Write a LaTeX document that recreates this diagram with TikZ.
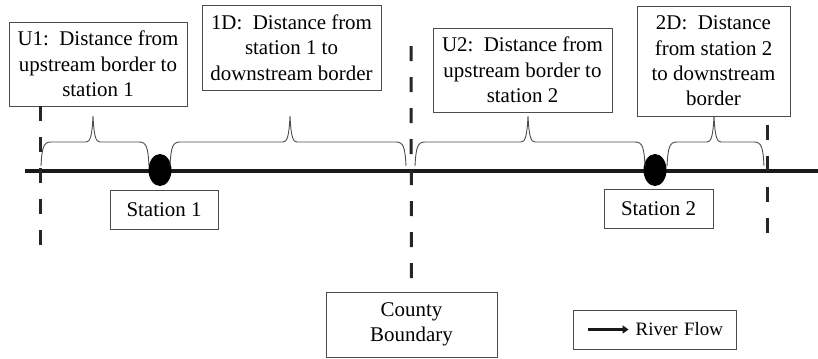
\documentclass[tikz,border=0pt]{standalone}
\usepackage{fontspec}
\setmainfont{Liberation Serif}
\usetikzlibrary{positioning, arrows.meta, shapes.geometric}
\tikzset{
    x=1bp, y=-1bp,
    every node/.style={font=\fontsize{21}{25.5}\selectfont},
    textbox/.style={draw=black!70, line width=0.9bp, inner sep=0pt, align=center},
    border/.style={line width=3bp, black!85, dash pattern=on 15bp off 16bp},
    river/.style={line width=4bp, black!90},
    station/.style={ellipse, fill=black, inner sep=0pt, minimum width=23bp, minimum height=32bp},
    brace/.style={draw=black!70, line width=0.9bp},
}
% curly brace over the river: left end, right end, tip
\newcommand{\spanbrace}[3]{%
  \draw[brace] (#1,166) .. controls (#1+1,146) and (#1+3,142) .. (#1+10,142)
    -- (#3-7,142) .. controls (#3-3,142) and (#3-1,137) .. (#3,116)
    .. controls (#3+1,137) and (#3+3,142) .. (#3+7,142)
    -- (#2-10,142) .. controls (#2-3,142) and (#2-1,146) .. (#2,166);}

\begin{document}
\begin{tikzpicture}
\useasboundingbox (0,0) rectangle (818,358);

% river and borders
\coordinate (rs) at (25,171);
\coordinate (re) at (818,171);
\draw[river] (rs) -- (re);

\node[station] (st1) at (160,170) {};
\node[station] (st2) at (655,170) {};

% text boxes
\node[textbox, minimum width=178bp, minimum height=84bp] (u1) at (98,64)
    {U1:\enspace Distance from\\ upstream border to\\ station 1};
\node[textbox, minimum width=179bp, minimum height=85bp] (d1) at (291.5,47.5)
    {1D:\enspace Distance from\\ station 1 to\\ downstream border};
\node[textbox, minimum width=179bp, minimum height=84bp] (u2) at (522.5,70)
    {U2:\enspace Distance from\\ upstream border to\\ station 2};
\node[textbox, minimum width=153bp, minimum height=110bp] (d2) at (713.5,61)
    {2D:\enspace Distance\\ from station 2\\ to downstream\\ border};
\node[textbox, minimum width=108bp, minimum height=39bp] (lab1) at (164,209.5) {Station 1};
\node[textbox, minimum width=109bp, minimum height=39bp] (lab2) at (658.5,208.5) {Station 2};
\node[textbox, minimum width=171bp, minimum height=65bp] (county) at (411.5,324.5)
    {County\\ Boundary};
\node[textbox, minimum width=163bp, minimum height=39bp, text width=137bp, align=right,
    font=\fontsize{19}{22}\selectfont] (flow) at (654.5,329.5) {River Flow};
\draw[line width=3bp, black!90, -{Triangle[length=6bp, width=8bp]}]
    ([xshift=15bp]flow.west) -- ([xshift=56bp]flow.west);

% county borders
\coordinate (b1) at (40,252);
\coordinate (b2) at (411,46);
\coordinate (b3a) at (767,125);
\coordinate (b3b) at (767,246);
\draw[border] (u1.south -| b1) -- (b1);
\draw[border] (b2) -- (county.north);
\draw[border] (b3a) -- (b3b);

% spans
\spanbrace{41}{149}{93}
\spanbrace{170}{406}{290}
\spanbrace{415}{645}{528}
\spanbrace{667}{764}{714}

\end{tikzpicture}
\end{document}
